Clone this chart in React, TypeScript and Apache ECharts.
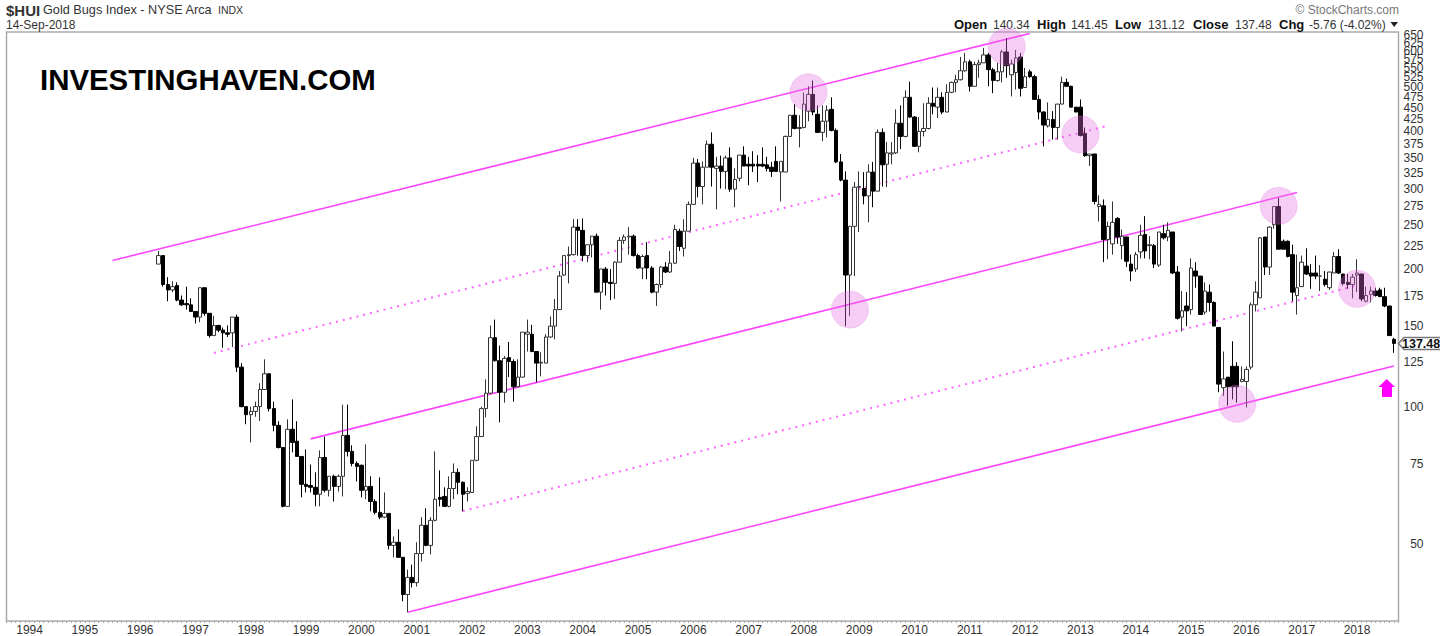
import * as echarts from "echarts"
import { useEffect, useRef } from "react"

// monthly bars, $HUI May 1996 .. Sep 2018
const firstYear = 1993
const firstMonth = 8
const monthCount = 303
const firstCandle = 33

const opens = [
  205, 214, 185, 180, 184, 171, 168, 167, 161.5, 157,
  182, 160, 143, 150.5, 147, 145, 145, 157, 122, 100,
  96, 97.6, 100, 109, 118, 99, 91, 81.4, 60.5, 89.2,
  84, 77.8, 67.6, 67.2, 66.6, 64.3, 77.4, 65.6, 70.4, 66.9,
  70.4, 86.5, 79.8, 75.1, 74.4, 65.6, 66.9, 62, 58.7, 57.3,
  58.4, 49.7, 50.5, 46.8, 38.8, 42.3, 41.2, 47.7, 55, 49.7,
  56.4, 63.3, 63.6, 60.5, 66.2, 71.8, 68.3, 64.6, 64.9, 76.3,
  86, 99, 107, 141.5, 126, 107.5, 128, 125.5, 110.5, 116,
  144, 144, 132, 124.5, 124.5, 142, 150, 163, 194, 214,
  215, 247, 243, 214, 226, 236, 178, 200, 187, 186,
  207, 231, 235, 236, 214, 201, 214, 201, 178, 185,
  202, 197, 206, 242, 222, 242, 277, 341, 303, 334,
  375, 332, 336, 327, 350, 299, 316, 355, 339, 339,
  339, 339, 338, 334, 344, 326, 326, 390, 434, 406,
  408, 443, 482, 436, 398, 421, 447, 402, 343, 313,
  194, 248, 302, 300, 289, 326, 296, 398, 339, 357,
  359, 417, 390, 475, 430, 371, 400, 406, 461, 452,
  475, 441, 487, 512, 519, 543, 568, 502, 560, 565,
  588, 546, 517, 540, 597, 532, 538, 582, 499, 540,
  527, 470, 441, 411, 425, 408, 459, 512, 502, 452,
  452, 396, 354, 357, 274, 275, 232, 227, 258, 225,
  235, 205, 200, 218, 238, 225, 225, 204, 239, 235,
  241, 197, 157, 166, 163, 198, 193, 161, 178, 169,
  149, 110, 116, 122.5, 122.5, 113.5, 113.5, 122, 167, 173,
  235, 202, 250, 274, 230, 230, 215, 175, 183, 203,
  196, 196, 193, 190, 182, 196, 213, 195, 187, 185,
  194, 195, 170, 176, 179, 180, 174, 166, 140.34,
]
const closes = [
  214, 185, 180, 183, 171, 167, 167, 161.5, 157, 182,
  160, 143, 150.5, 147, 145, 144, 157, 122, 100, 96,
  97.6, 100, 109, 118, 99, 91, 81.4, 60.5, 89.2, 83.5,
  77.8, 67.6, 66.9, 66.6, 64.3, 77.4, 65.6, 70.4, 66.9, 70.4,
  86.5, 79.8, 75.1, 74, 65.6, 66.9, 62, 58.7, 57.3, 58.4,
  49.7, 50.5, 46.8, 38.8, 42.3, 41.2, 47.7, 55, 49.7, 56.4,
  62.7, 62.7, 60.5, 66.2, 71.8, 68.3, 64.3, 65.2, 76.3, 86,
  99, 107, 141.5, 126, 107.5, 127.5, 125.5, 110.5, 116, 145.5,
  145.5, 132, 124.5, 125, 142, 150, 163, 193, 214, 215,
  247, 243, 214, 226, 236, 178, 200, 187, 186, 207,
  231, 235, 236, 214, 201, 213, 201, 178, 185, 202,
  197, 206, 244, 224, 242, 277, 341, 303, 334, 375,
  334, 336, 327, 350, 299, 314, 355, 336, 336, 336,
  336, 336, 332, 327, 327, 344, 390, 434, 406, 408,
  459, 482, 441, 398, 421, 445, 402, 343, 313, 194,
  248, 302, 303, 289, 326, 296, 398, 338, 359, 359,
  417, 390, 475, 430, 371, 400, 406, 461, 454, 475,
  441, 487, 512, 519, 543, 568, 502, 560, 565, 588,
  546, 517, 540, 597, 557, 562, 579, 497, 527, 527,
  470, 441, 413, 425, 408, 459, 512, 502, 452, 441,
  392, 354, 357, 281, 277, 232, 248, 253, 235, 236,
  208, 198, 215, 237, 219, 226, 205, 241, 234, 243,
  196, 156, 162, 162, 201, 193, 159, 179, 169, 150,
  112, 115, 110.5, 110.5, 110.5, 114.7, 120.6, 167, 178, 234,
  202, 247, 274, 221, 221, 213, 178, 182, 207, 195,
  193, 193, 193, 185, 197, 213, 196, 186, 185, 192,
  196, 172, 175, 179, 175, 174, 166, 143, 137.48,
]
const lows = [
  205, 183, 170, 178, 170, 166, 163, 161, 152, 153,
  158, 141.5, 143, 145.5, 134.5, 142, 135, 119, 99.6, 91.5,
  83.5, 95, 93, 109, 97.6, 88.3, 81, 60.2, 60.5, 79.4,
  77.8, 63.3, 64.9, 64.9, 60.5, 60.5, 64.9, 63.6, 62, 65.2,
  63.6, 77.8, 74, 68.6, 63.3, 62.7, 59, 58.1, 56.7, 57,
  48.7, 46.8, 46.8, 37.5, 35.5, 40.2, 40.4, 45.8, 49.5, 47.5,
  56.1, 60.5, 60.5, 60.2, 62.7, 64.3, 59, 62, 64.9, 75.9,
  86, 94.7, 106.5, 125.5, 92.4, 102, 116, 102.5, 110.5, 116,
  132, 131.5, 113, 116.5, 124.5, 141.5, 140.3, 163, 193, 186,
  214, 214, 208, 207, 212, 178, 163, 175, 171, 172,
  207, 227, 215, 213, 200, 190, 190, 177, 166, 182,
  196, 196, 205, 219, 213, 242, 277, 287, 277, 334,
  303, 270, 300, 299, 295, 273, 311, 336, 305, 326,
  310, 334, 327, 318, 327, 281, 326, 390, 404, 369,
  406, 421, 434, 398, 381, 388, 400, 341, 311, 150,
  158, 193, 241, 277, 253, 273, 296, 303, 302, 339,
  357, 366, 388, 428, 371, 360, 390, 404, 436, 428,
  436, 441, 485, 487, 517, 540, 489, 502, 524, 565,
  502, 485, 514, 512, 524, 477, 494, 477, 499, 524,
  470, 425, 371, 408, 384, 384, 459, 502, 452, 441,
  390, 352, 336, 277, 254, 207, 210, 215, 227, 210,
  202, 188, 197, 211, 211, 210, 201, 202, 232, 230,
  195, 155, 146, 150, 159, 182, 159, 159, 161.5, 150,
  107.5, 105.5, 100.5, 103.7, 102, 113, 99.6, 120.6, 161.5, 173,
  194, 194, 245, 221, 221, 212, 170, 159, 183, 194,
  181, 190, 179, 183, 180, 196, 195, 184, 181, 172.5,
  178, 170, 169, 169, 174, 174, 165, 143, 131.12,
]
const highs = [
  219, 214, 192, 188, 187, 175, 183, 172.5, 161.5, 182,
  182, 160, 158, 151, 149, 150.5, 157, 159, 124.5, 100,
  100, 102.5, 112.5, 126.9, 118, 102.5, 92.9, 81.4, 93.8, 103.7,
  92.9, 77.8, 80.6, 74.7, 71.8, 80.2, 86, 70.4, 71, 71,
  101, 101, 82.3, 75.9, 74.7, 82.7, 70.4, 62.7, 70, 64.9,
  58.4, 52, 53.9, 46.8, 44, 45.1, 50.5, 57.3, 59.9, 57.3,
  79.8, 72.5, 66.6, 70.4, 75.1, 73.2, 68.6, 66.6, 76.3, 90.6,
  100, 114.7, 150.5, 155, 136, 129, 138.5, 126.9, 126.9, 145.5,
  155, 151, 132, 131.5, 144, 157.5, 172, 198, 214, 224,
  257, 257, 258, 226, 236, 239, 200, 202, 200, 208,
  235, 238, 247, 238, 216, 215, 229, 203, 186, 203,
  207, 219, 250, 245, 257, 281, 350, 348, 344, 382,
  398, 352, 354, 354, 369, 332, 355, 371, 352, 362,
  355, 369, 352, 343, 371, 344, 392, 434, 459, 434,
  487, 502, 517, 456, 456, 456, 475, 406, 357, 327,
  248, 310, 327, 326, 339, 343, 404, 406, 379, 379,
  447, 456, 492, 514, 432, 430, 461, 475, 499, 499,
  487, 507, 514, 532, 582, 594, 574, 568, 574, 609,
  594, 551, 565, 603, 640, 574, 603, 594, 551, 546,
  532, 480, 443, 463, 443, 459, 527, 522, 504, 452,
  470, 408, 357, 357, 290, 284, 254, 281, 260, 244,
  235, 215, 218, 250, 261, 236, 227, 241, 250, 253,
  241, 203, 179, 178, 211, 207, 193, 187, 185, 170,
  149, 132, 116, 139, 125, 122.5, 122.5, 169, 188, 235,
  235, 248, 274, 286, 232, 231, 226, 215, 214, 222,
  205, 214, 204, 198, 197, 218, 221, 195, 195, 195,
  210, 195, 183, 183, 182, 182, 182, 166, 141.45,
]

const yTicks = [
  50, 75, 100, 125, 150, 175, 200, 225, 250, 275, 300, 325, 350, 375, 400, 425, 450, 475, 500, 525,
  550, 575, 600, 625, 650,
]
// echarts drops one of the top two labels when they touch; give it a blank one to drop
const yLabelValues = [...yTicks, 656]

// channel lines and touch points, [month index, price]
const channelTop = [[23, 208.8], [222, 655]]
const channelMid = [[66, 85], [280, 294]]
const channelLow = [[87, 35.5], [301, 122.7]]
const dottedUpper = [[45, 131], [239, 412]]
const dottedLower = [[99, 59.1], [293, 184]]
const touches = [[174, 487], [217, 613], [233, 394], [183, 163], [276, 275], [267, 101.4], [293, 181]]

const headerLeft = [
  { text: "$HUI", x: 6, y: 10, font: "bold 15px" },
  { text: "Gold Bugs Index - NYSE Arca", x: 43, y: 10, font: "12.7px" },
  { text: "INDX", x: 218, y: 10, font: "10.5px" },
  { text: "14-Sep-2018", x: 6, y: 25, font: "12px" },
]
const headerRight = [
  { text: "Open", x: 954, bold: true },
  { text: "140.34", x: 993 },
  { text: "High", x: 1037, bold: true },
  { text: "141.45", x: 1071 },
  { text: "Low", x: 1115, bold: true },
  { text: "131.12", x: 1148 },
  { text: "Close", x: 1193, bold: true },
  { text: "137.48", x: 1235 },
  { text: "Chg", x: 1279, bold: true },
  { text: "-5.76 (-4.02%)", x: 1309 },
]

const months: string[] = []
for (let i = 0; i < monthCount; i++) {
  const m = firstMonth - 1 + i
  const mm = String((m % 12) + 1).padStart(2, "0")
  months.push(`${firstYear + Math.floor(m / 12)}-${mm}`)
}

const FONT = "'Liberation Sans', Arial, sans-serif"
const PINK = "#ff44ff"

export default function App() {
  const ref = useRef<HTMLDivElement>(null)

  useEffect(() => {
    if (!ref.current) return
    const chart = echarts.init(ref.current, undefined, { renderer: "svg" })

    const candles = months.map((_, i) => {
      const k = i - firstCandle
      if (k < 0 || k >= opens.length) return ["-", "-", "-", "-"]
      return [opens[k], closes[k], lows[k], highs[k]]
    })
    const trend = (data: number[][], dotted: boolean) => ({
      type: "line",
      data,
      showSymbol: false,
      silent: true,
      z: 1,
      lineStyle: dotted
        ? { color: "#ff66ff", width: 2, type: [2, 5] }
        : { color: PINK, width: 1.6 },
    })

    chart.setOption({
      animation: false,
      backgroundColor: "#fff",
      textStyle: { fontFamily: FONT },
      grid: {
        show: true,
        left: 6.5,
        top: 32,
        width: 1392,
        height: 589,
        borderColor: "#aaa",
        borderWidth: 1.5,
        backgroundColor: "#fff",
      },
      xAxis: {
        type: "category",
        data: months,
        boundaryGap: false,
        axisLine: { show: false },
        axisTick: { interval: 0, length: 2, lineStyle: { color: "#aaa" } },
        axisLabel: {
          interval: (_: number, v: string) => v.endsWith("-01"),
          formatter: (v: string) => v.slice(0, 4),
          color: "#333",
          fontSize: 12,
          fontFamily: FONT,
          margin: 3,
        },
        splitLine: { show: false },
      },
      yAxis: {
        type: "log",
        logBase: 10,
        min: 33.96,
        max: 660,
        position: "right",
        axisLine: { show: false },
        axisTick: { length: 3, customValues: yTicks, lineStyle: { color: "#888" } },
        axisLabel: {
          customValues: yLabelValues,
          formatter: (v: number) => (yTicks.includes(Math.round(v)) ? String(Math.round(v)) : ""),
          color: "#333",
          fontSize: 12,
          fontFamily: FONT,
          align: "right",
          margin: 25,
          showMaxLabel: false,
          showMinLabel: true,
        },
        splitLine: { show: false },
        minorTick: { show: false },
      },
      series: [
        trend(channelTop, false),
        trend(channelMid, false),
        trend(channelLow, false),
        trend(dottedUpper, true),
        trend(dottedLower, true),
        {
          type: "candlestick",
          data: candles,
          barWidth: 4,
          z: 2,
          itemStyle: {
            color: "#fff",
            color0: "#000",
            borderColor: "#333",
            borderColor0: "#000",
            borderWidth: 1,
          },
        },
        {
          type: "scatter",
          data: touches,
          symbolSize: 37,
          z: 3,
          silent: true,
          itemStyle: { color: "rgba(228,110,225,0.42)", borderColor: "rgba(220,120,220,0.35)", borderWidth: 1 },
        },
      ],
      graphic: [
        ...headerLeft.map((h) => ({
          type: "text",
          x: h.x,
          y: h.y,
          style: { text: h.text, font: `${h.font} ${FONT}`, fill: "#333", verticalAlign: "middle" },
        })),
        ...headerRight.map((h) => ({
          type: "text",
          x: h.x,
          y: 24.5,
          style: {
            text: h.text,
            font: `${h.bold ? "bold 13px" : "12px"} ${FONT}`,
            fill: h.bold ? "#111" : "#333",
            verticalAlign: "middle",
          },
        })),
        { type: "polygon", shape: { points: [[1390.5, 22], [1398, 22], [1394.2, 27]] }, style: { fill: "#222" } },
        {
          type: "text",
          x: 1399,
          y: 9.5,
          style: { text: "© StockCharts.com", font: `12px ${FONT}`, fill: "#777", align: "right", verticalAlign: "middle" },
        },
        {
          type: "text",
          x: 40,
          y: 79,
          style: { text: "INVESTINGHAVEN.COM", font: `bold 29.4px ${FONT}`, fill: "#000", verticalAlign: "middle" },
        },
        {
          type: "polygon",
          z: 10,
          shape: {
            points: [[1386.7, 379], [1395, 387], [1392, 387], [1392, 397], [1382, 397], [1382, 387], [1378.5, 387]],
          },
          style: { fill: "#ff00ff" },
        },
        {
          type: "polyline",
          shape: { points: [[1440, 337.5], [1404, 337.5], [1398.5, 343.5], [1404, 349.5], [1440, 349.5]] },
          style: { stroke: "#777", lineWidth: 1.5, fill: "#fff" },
        },
        {
          type: "text",
          x: 1402,
          y: 343.5,
          style: { text: "137.48", font: `bold 12.5px ${FONT}`, fill: "#111", verticalAlign: "middle" },
        },
      ],
    })

    return () => chart.dispose()
  }, [])

  return <div ref={ref} style={{ position: "fixed", left: 0, top: 0, width: 1440, height: 636 }} />
}
